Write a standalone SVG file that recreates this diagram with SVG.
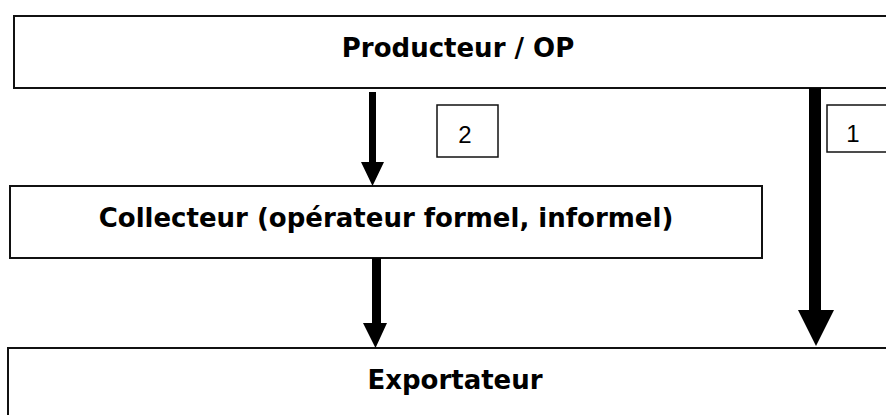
<svg xmlns="http://www.w3.org/2000/svg" width="886" height="415" viewBox="0 0 886 415">
  <style>
    .box { fill: #ffffff; stroke: #111111; stroke-width: 2; }
    .tag { fill: #ffffff; stroke: #111111; stroke-width: 1.5; }
    .title { font-family: "DejaVu Sans", Verdana, sans-serif; font-weight: bold; font-size: 26px; fill: #000000; text-anchor: middle; }
    .num { font-family: "Liberation Sans", Arial, sans-serif; font-size: 24px; fill: #000000; text-anchor: middle; }
    .arrow { fill: #000000; stroke: none; }
  </style>
  <rect width="886" height="415" fill="#ffffff"/>

  <g id="producteur">
    <rect class="box" x="14" y="16" width="890" height="72"/>
    <text class="title" x="458" y="57">Producteur / OP</text>
  </g>

  <g id="collecteur">
    <rect class="box" x="10" y="186" width="752" height="72"/>
    <text class="title" x="386" y="227">Collecteur (opérateur formel, informel)</text>
  </g>

  <g id="exportateur">
    <rect class="box" x="8" y="348" width="896" height="80"/>
    <text class="title" x="455" y="389">Exportateur</text>
  </g>

  <g id="connectors">
    <!-- channel 2: producer to collector -->
    <path class="arrow" d="M369,92 H376 V162 H384 L372.5,186 L361,162 H369 Z"/>
    <!-- collector to exporter -->
    <path class="arrow" d="M372,258 H381 V323 H387 L375.5,348 L363,323 H372 Z"/>
    <!-- channel 1: producer directly to exporter -->
    <path class="arrow" d="M809,88 H821 V310 H834 L816,346 L798,310 H809 Z"/>
  </g>

  <g id="label-2">
    <rect class="tag" x="437" y="105" width="61" height="52"/>
    <text class="num" x="465" y="143">2</text>
  </g>

  <g id="label-1">
    <rect class="tag" x="827" y="105" width="70" height="47"/>
    <text class="num" x="853" y="142">1</text>
  </g>
</svg>
